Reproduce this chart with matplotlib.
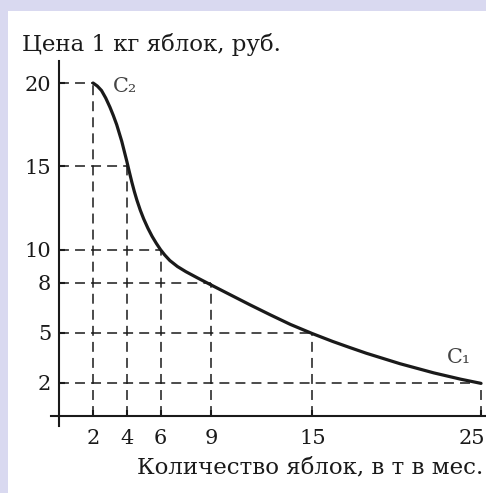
import matplotlib.pyplot as plt
from matplotlib.patches import Rectangle
from matplotlib.transforms import ScaledTranslation

# points (quantity, price)
curve_x = [2.0, 2.25, 2.5, 2.75, 3.0, 3.2, 3.4, 3.7, 4.0, 4.15, 4.3, 4.45, 4.6, 4.8, 5.0,
           5.25, 5.5, 5.75, 6.0, 6.25, 6.55, 7.0, 7.5, 8.2, 9.0, 10.1, 11.3, 12.5,
           13.7, 15.0, 16.2, 17.2, 18.2, 20.2, 22.2, 23.8, 25.0]
curve_y = [20.0, 19.82, 19.55, 19.1, 18.55, 18.05, 17.5, 16.5, 15.3, 14.66, 14.04, 13.47, 12.96,
           12.36, 11.84, 11.28, 10.79, 10.37, 9.99, 9.67, 9.34, 8.98, 8.67, 8.29, 7.87, 7.3,
           6.68, 6.08, 5.5, 4.95, 4.48, 4.12, 3.77, 3.14, 2.59, 2.21, 1.96]

# marked points on the curve, with guide lines to the axes
qty = [2, 4, 6, 9, 15, 25]
price = [20, 15, 10, 8, 5, 2]

title = 'Цена 1 кг яблок, руб.'
xlabel = 'Количество яблок, в т в мес.'

plt.rcParams['font.family'] = ['DejaVu Serif']
ink = '#1a1a1a'

fig = plt.figure(figsize=(4.86, 4.93), dpi=100, facecolor='#d9d9f0')
bg = Rectangle((8 / 486, 0), 1, 1 - 11 / 493, transform=fig.transFigure,
               facecolor='white', edgecolor='none', zorder=-10)
fig.patches.append(bg)

ax = fig.add_axes([50.9 / 486, 0.1359, (486.1 - 50.9) / 486, 0.8755 - 0.1359])
ax.set_facecolor('none')
ax.set_xlim(-0.5, 25.3)
ax.set_ylim(-0.6, 21.3)

for q, p in zip(qty, price):
    ax.plot([0, q], [p, p], color=ink, lw=1.1, dashes=(6.5, 4))
    ax.plot([q, q], [0, p], color=ink, lw=1.1, dashes=(6.5, 4))

ax.plot(curve_x, curve_y, color=ink, lw=2.3, solid_capstyle='round', solid_joinstyle='round')

ax.spines['left'].set_position(('data', 0))
ax.spines['bottom'].set_position(('data', 0))
ax.spines['right'].set_visible(False)
ax.spines['top'].set_visible(False)
for s in ('left', 'bottom'):
    ax.spines[s].set_linewidth(1.5)
    ax.spines[s].set_color(ink)

ax.set_xticks(qty)
ax.set_yticks(price)
ax.tick_params(axis='both', direction='in', length=4, width=1.5, color=ink,
               labelsize=15, labelcolor=ink)
ax.tick_params(axis='x', pad=9)
ax.tick_params(axis='y', pad=6)

last = ax.get_xticklabels()[-1]
last.set_ha('right')
last.set_transform(last.get_transform() + ScaledTranslation(4 / 100, 0, fig.dpi_scale_trans))

ax.text(3.2, 19.8, 'C₂', fontsize=15, color='#444444', va='center', ha='left')
ax.text(23.0, 3.5, 'C₁', fontsize=15, color='#444444', va='center', ha='left')

fig.text(22 / 486, 1 - 44 / 493, title, fontsize=16.5, color=ink, va='center', ha='left')
fig.text(483 / 486, 1 - 467 / 493, xlabel, fontsize=16.5, color=ink, va='center', ha='right')

fig.savefig('out.png', dpi=100, facecolor=fig.get_facecolor())
